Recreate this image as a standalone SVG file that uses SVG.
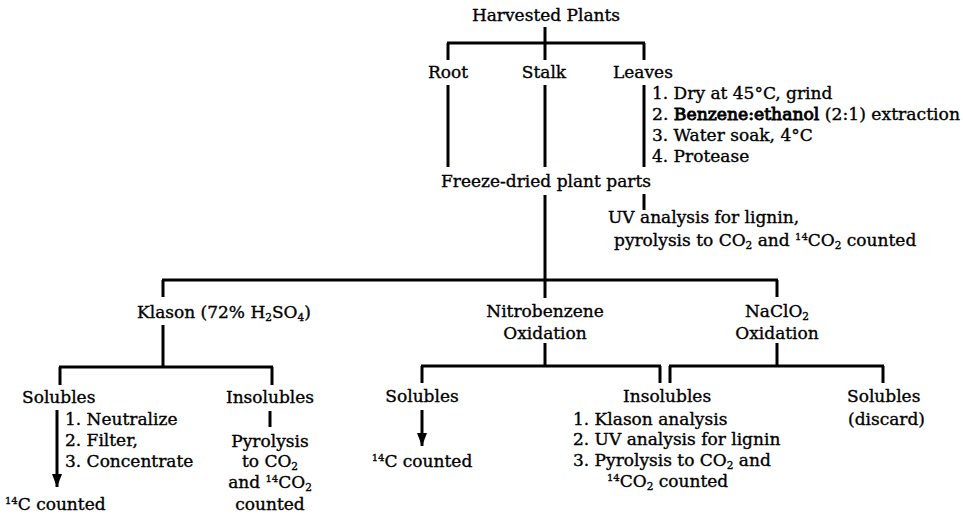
<svg xmlns="http://www.w3.org/2000/svg" width="963" height="516" viewBox="0 0 963 516">
<style>
text{font-family:"DejaVu Serif","Liberation Serif",serif;font-size:17px;fill:#000;stroke:#000;stroke-width:0.35}
.c{text-anchor:middle}
.sub{font-size:10.5px}
.sup{font-size:10px}
.b{stroke-width:0.9}
#connectors line{stroke:#000;stroke-width:3;fill:none}
</style>
<defs>
<marker id="arr" viewBox="0 0 13 10" refX="13" refY="5" markerWidth="13" markerHeight="10" markerUnits="userSpaceOnUse" orient="auto">
<path d="M0,0 L13,5 L0,10 z" fill="#000"/>
</marker>
</defs>
<rect width="963" height="516" fill="#fff"/>
<g id="connectors">
<line x1="545" y1="27" x2="545" y2="43"/>
<line x1="447" y1="43" x2="645" y2="43"/>
<line x1="448" y1="43" x2="448" y2="60"/>
<line x1="545" y1="43" x2="545" y2="60"/>
<line x1="644" y1="43" x2="644" y2="60"/>
<line x1="448" y1="85" x2="448" y2="167"/>
<line x1="545" y1="85" x2="545" y2="167"/>
<line x1="644" y1="85" x2="644" y2="167"/>
<line x1="545" y1="195" x2="545" y2="298"/>
<line x1="644" y1="194" x2="644" y2="210"/>
<line x1="162" y1="280" x2="778" y2="280"/>
<line x1="163" y1="280" x2="163" y2="297"/>
<line x1="777" y1="280" x2="777" y2="297"/>
<line x1="163" y1="325" x2="163" y2="367"/>
<line x1="59" y1="367" x2="273" y2="367"/>
<line x1="60" y1="367" x2="60" y2="385"/>
<line x1="272" y1="367" x2="272" y2="385"/>
<line x1="57" y1="410" x2="57" y2="487" marker-end="url(#arr)"/>
<line x1="270" y1="411" x2="270" y2="427"/>
<line x1="545" y1="343" x2="545" y2="366"/>
<line x1="421" y1="366" x2="661" y2="366"/>
<line x1="422" y1="366" x2="422" y2="383"/>
<line x1="660" y1="366" x2="660" y2="383"/>
<line x1="777" y1="343" x2="777" y2="366"/>
<line x1="669" y1="366" x2="884" y2="366"/>
<line x1="670" y1="366" x2="670" y2="383"/>
<line x1="883" y1="366" x2="883" y2="383"/>
<line x1="422" y1="410" x2="422" y2="446" marker-end="url(#arr)"/>
</g>
<g id="harvested"><text class="c" x="546" y="21">Harvested Plants</text></g>
<g id="root"><text class="c" x="448" y="78">Root</text></g>
<g id="stalk"><text class="c" x="544" y="78">Stalk</text></g>
<g id="leaves"><text x="613" y="78">Leaves</text></g>
<g id="leaves-steps">
<text x="652" y="99">1. Dry at 45°C, grind</text>
<text x="652" y="120" textLength="308" lengthAdjust="spacingAndGlyphs">2. <tspan class="b">Benzene:ethanol</tspan> (2:1) extraction</text>
<text x="652" y="141">3. Water soak, 4°C</text>
<text x="652" y="162">4. Protease</text>
</g>
<g id="freeze"><text class="c" x="546" y="187">Freeze-dried plant parts</text></g>
<g id="uv">
<text x="608" y="223">UV analysis for lignin,</text>
<text x="614" y="246">pyrolysis to CO<tspan class="sub" dy="3">2</tspan><tspan dy="-3"> and </tspan><tspan class="sup" dy="-6">14</tspan><tspan dy="6">CO</tspan><tspan class="sub" dy="3">2</tspan><tspan dy="-3"> counted</tspan></text>
</g>
<g id="klason"><text x="137" y="318">Klason (72% H<tspan class="sub" dy="3">2</tspan><tspan dy="-3">SO</tspan><tspan class="sub" dy="3">4</tspan><tspan dy="-3">)</tspan></text></g>
<g id="nitrobenzene">
<text class="c" x="545" y="317">Nitrobenzene</text>
<text class="c" x="545" y="339">Oxidation</text>
</g>
<g id="naclo2">
<text class="c" x="777" y="317">NaClO<tspan class="sub" dy="3">2</tspan></text>
<text class="c" x="777" y="339">Oxidation</text>
</g>
<g id="k-solubles">
<text x="22" y="403">Solubles</text>
<text x="65" y="425">1. Neutralize</text>
<text x="65" y="446">2. Filter,</text>
<text x="65" y="467">3. Concentrate</text>
</g>
<g id="k-counted"><text x="5" y="510"><tspan class="sup" dy="-6">14</tspan><tspan dy="6">C counted</tspan></text></g>
<g id="k-insolubles">
<text class="c" x="270" y="403">Insolubles</text>
<text class="c" x="270" y="447">Pyrolysis</text>
<text class="c" x="270" y="467">to CO<tspan class="sub" dy="3">2</tspan></text>
<text class="c" x="270" y="488">and <tspan class="sup" dy="-6">14</tspan><tspan dy="6">CO</tspan><tspan class="sub" dy="3">2</tspan></text>
<text class="c" x="270" y="510">counted</text>
</g>
<g id="n-solubles">
<text class="c" x="422" y="402">Solubles</text>
</g>
<g id="n-counted"><text class="c" x="422" y="467"><tspan class="sup" dy="-6">14</tspan><tspan dy="6">C counted</tspan></text></g>
<g id="insolubles">
<text x="623" y="402">Insolubles</text>
<text x="573" y="425">1. Klason analysis</text>
<text x="573" y="445">2. UV analysis for lignin</text>
<text x="573" y="466">3. Pyrolysis to CO<tspan class="sub" dy="3">2</tspan><tspan dy="-3"> and</tspan></text>
<text x="607" y="487"><tspan class="sup" dy="-6">14</tspan><tspan dy="6">CO</tspan><tspan class="sub" dy="3">2</tspan><tspan dy="-3"> counted</tspan></text>
</g>
<g id="s-solubles">
<text x="847" y="402">Solubles</text>
<text x="848" y="425">(discard)</text>
</g>
</svg>
